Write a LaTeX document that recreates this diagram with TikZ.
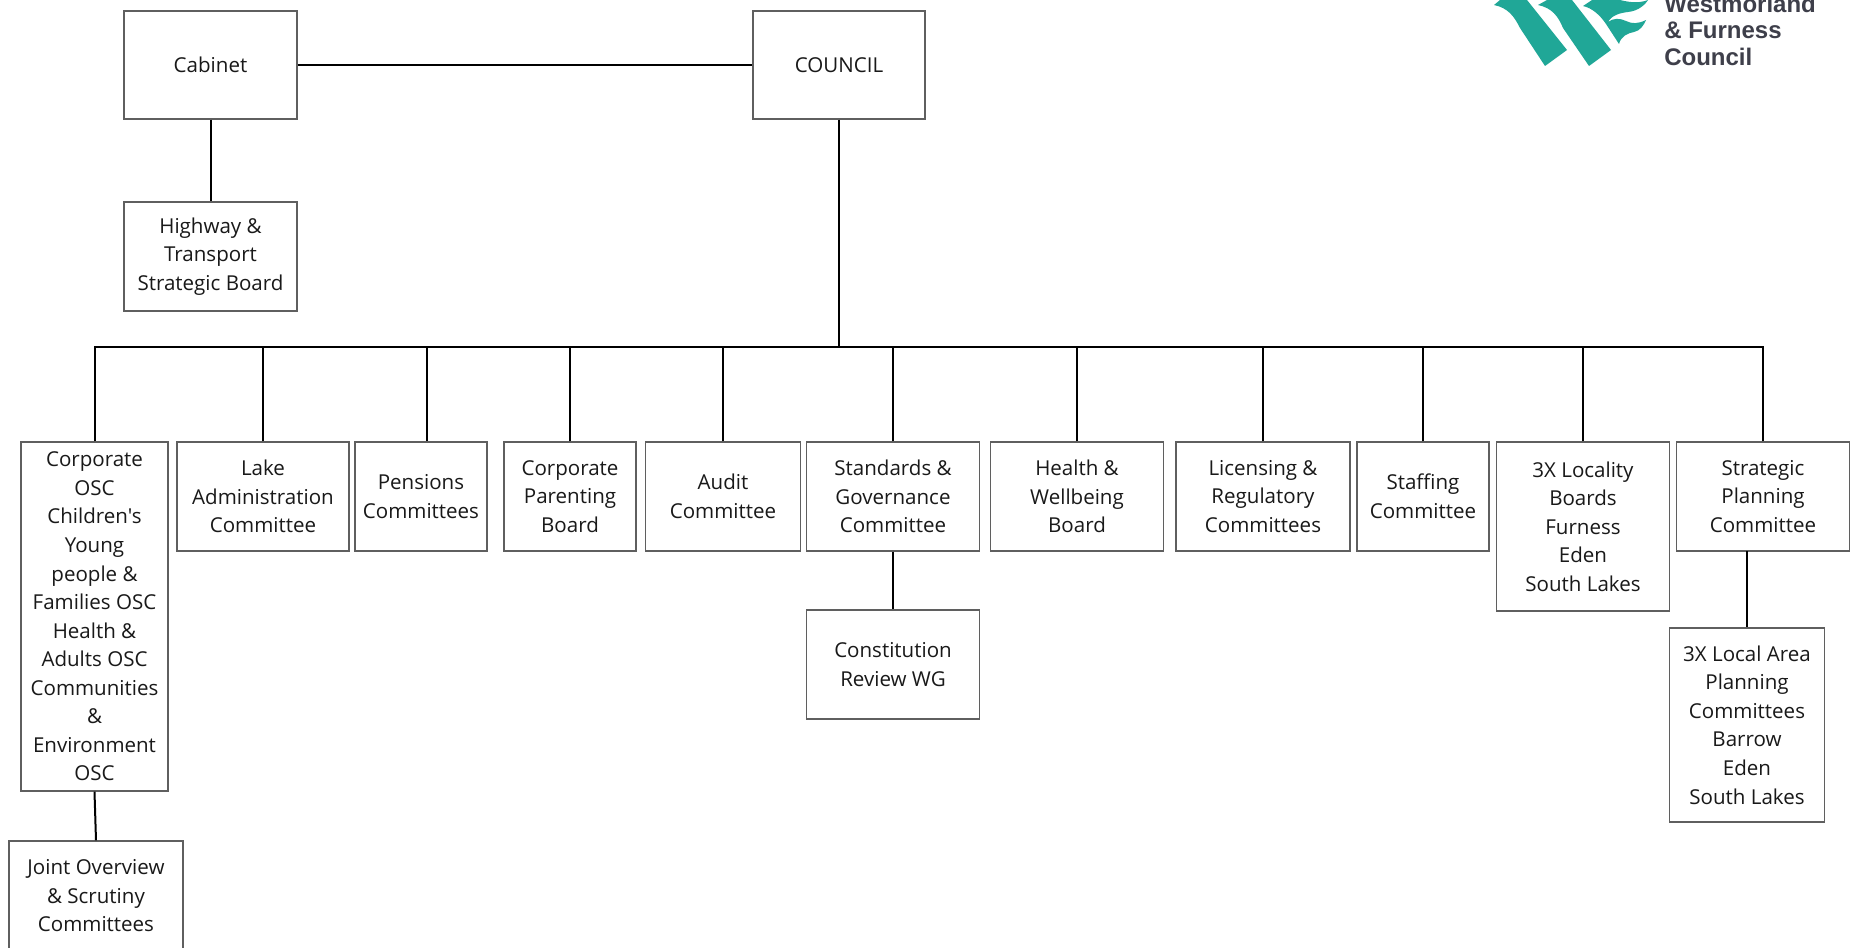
\documentclass[tikz,border=0pt]{standalone}
\usepackage{fontspec}
\setmainfont{Open Sans}[Ligatures=TeXOff]
\newfontfamily\logofont{Liberation Sans}
\definecolor{logoteal}{HTML}{20A797}
\definecolor{logoink}{HTML}{3E3F4A}
\definecolor{boxline}{HTML}{5F5F5F}
\tikzset{
  orgbox/.style 2 args={draw=boxline,line width=1.05pt,fill=white,align=center,inner sep=0pt,
    minimum width=#1*0.75pt,minimum height=#2*0.75pt,font=\fontsize{15.4}{21.4}\selectfont,text=black!90},
  link/.style={draw=black,line width=1.5pt},
  logotext/.style={anchor=base west,inner sep=0pt,text=logoink,font=\logofont\fontsize{18}{20}\selectfont\bfseries}
}
\begin{document}
\begin{tikzpicture}[x=0.75pt,y=-0.75pt]
\useasboundingbox (0,0) rectangle (1850,948);
\clip (0,0) rectangle (1850,948);
\fill[white] (0,0) rectangle (1850,948);
% boxes
\node[orgbox={173}{108}] (cabinet) at (210.5,65) {Cabinet};
\node[orgbox={172}{108}] (council) at (839,65) {COUNCIL};
\node[orgbox={173}{109}] (highway) at (210.5,256.5) {Highway \&\\Transport\\Strategic Board};
\node[orgbox={147}{349}] (corp) at (94.5,616.5) {Corporate\\OSC\\Children's\\Young\\people \&\\Families OSC\\Health \&\\Adults OSC\\Communities\\\&\\Environment\\OSC};
\node[orgbox={172}{109}] (lake) at (263,496.5) {Lake\\Administration\\Committee};
\node[orgbox={132}{109}] (pens) at (421,496.5) {Pensions\\Committees};
\node[orgbox={132}{109}] (parent) at (570,496.5) {Corporate\\Parenting\\Board};
\node[orgbox={155}{109}] (audit) at (723,496.5) {Audit\\Committee};
\node[orgbox={173}{109}] (stand) at (893,496.5) {Standards \&\\Governance\\Committee};
\node[orgbox={173}{109}] (hwb) at (1077,496.5) {Health \&\\Wellbeing\\Board};
\node[orgbox={174}{109}] (lic) at (1263,496.5) {Licensing \&\\Regulatory\\Committees};
\node[orgbox={132}{109}] (staff) at (1423,496.5) {Staffing\\Committee};
\node[orgbox={173}{169}] (local) at (1583,526.5) {3X Locality\\Boards\\Furness\\Eden\\South Lakes};
\node[orgbox={173}{109}] (strat) at (1763,496.5) {Strategic\\Planning\\Committee};
\node[orgbox={173}{109}] (const) at (893,664.5) {Constitution\\Review WG};
\node[orgbox={155}{194}] (area) at (1747,725) {3X Local Area\\Planning\\Committees\\Barrow\\Eden\\South Lakes};
\node[orgbox={174}{110}] (joint) at (96,896) {Joint Overview\\\& Scrutiny\\Committees};
% bus
\coordinate (busW) at (95,347.5);
\coordinate (busE) at (1763,347.5);
\coordinate (tap) at (427,347.5);
\coordinate (stratdrop) at (1747,551);
\draw[link] (cabinet) -- (council);
\draw[link] (cabinet) -- (highway);
\draw[link] (council.south) -- (council.south |- busW);
\draw[link,line cap=rect] (busW) -- (busE);
\draw[link] (corp.north) -- (corp.north |- busW);
\foreach \n in {lake,parent,audit,stand,hwb,lic,staff,local,strat}
  \draw[link] (\n.north) -- (\n.north |- busW);
\draw[link] (tap) -- (tap |- pens.north);
\draw[link] (stand) -- (const);
\draw[link] (stratdrop) -- (area.north);
\draw[link] (corp.south) -- (joint.north);
% logo
\fill[logoteal] (1494,5) .. controls (1508,8) and (1514,16) .. (1520,28) -- (1545,66) -- (1567,50) -- (1527,0) -- (1500,0) -- cycle;
\fill[logoteal] (1538,5) .. controls (1552,8) and (1558,16) .. (1563,28) -- (1589,66) -- (1611,50) -- (1572,0) -- (1547,0) -- cycle;
\fill[logoteal] (1583,6) .. controls (1592,8) and (1600,15) .. (1606,24) -- (1619,44) .. controls (1621,36) and (1628,33) .. (1634,32) .. controls (1640,31) and (1644,25) .. (1646,20) .. controls (1638,24) and (1632,24) .. (1626,21) .. controls (1620,18) and (1613,18) .. (1608,22) .. controls (1612,15) and (1620,13) .. (1628,12) .. controls (1638,11) and (1645,5) .. (1648,0) .. controls (1640,3) and (1632,3) .. (1620,0) -- (1592,0) -- cycle;
\node[logotext] (logo1) at (1664,13) {Westmorland};
\node[logotext] (logo2) at (1664,39) {\& Furness};
\node[logotext] (logo3) at (1664,65.5) {Council};
\end{tikzpicture}
\end{document}
